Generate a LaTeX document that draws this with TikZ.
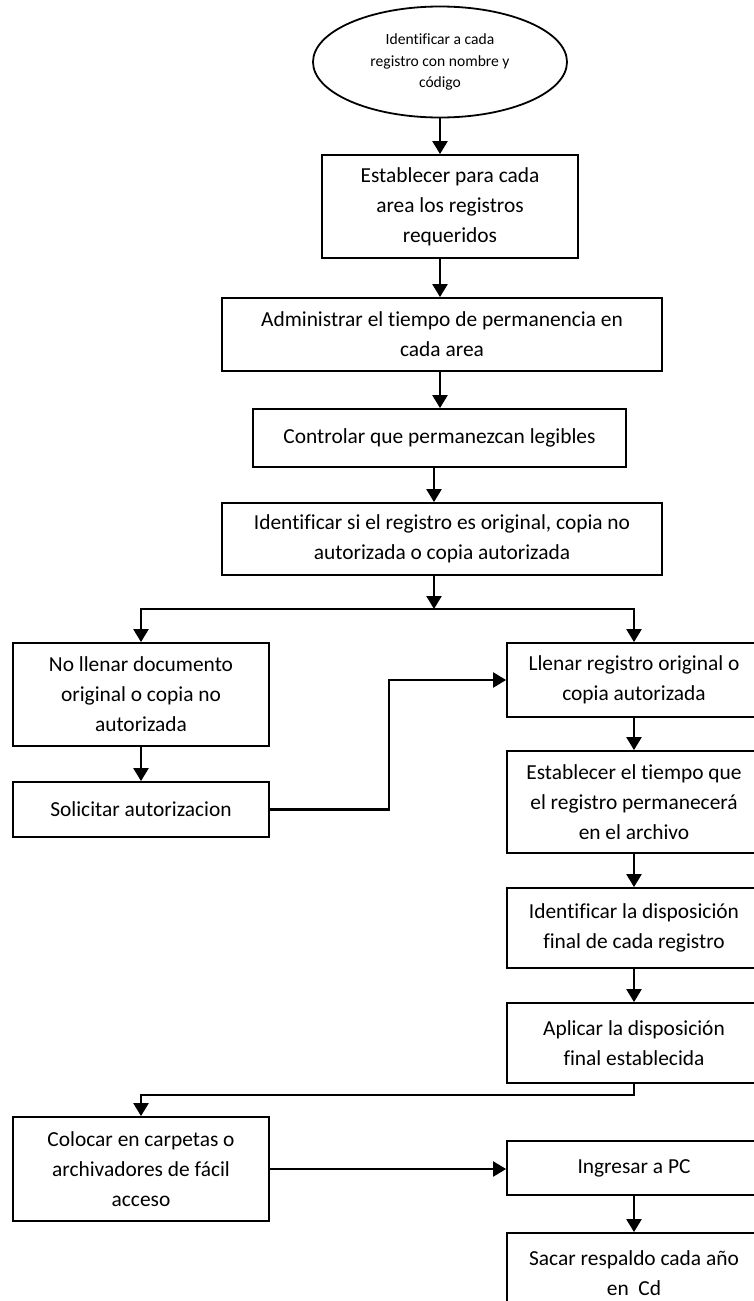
\documentclass[tikz,border=0pt]{standalone}
\usepackage{fontspec}
\setmainfont{Carlito}[Ligatures=NoCommon]
\usetikzlibrary{shapes.geometric,arrows.meta}
\begin{document}
\begin{tikzpicture}[x=1pt, y=-1pt, line width=1.8pt, >={Triangle[width=15pt,length=13pt]},
	caja/.style={draw, rectangle, align=center, inner sep=0pt, font=\fontsize{21.4}{30}\selectfont},
	elipse/.style={draw, ellipse, align=center, inner sep=0pt, font=\fontsize{15.6}{21.5}\selectfont},
	flecha/.style={->, line width=2.3pt}]
	\useasboundingbox (0,0) rectangle (754,1301);
	\clip (0,0) rectangle (754,1301);
	
	% columna central
	\node[elipse, minimum width=254pt, minimum height=111pt] (inicio) at (440,62) {Identificar a cada\\registro con nombre y\\código};
	\node[caja, minimum width=256pt, minimum height=103pt] (b1) at (450,206.5) {Establecer para cada\\area los registros\\requeridos};
	\node[caja, minimum width=440pt, minimum height=73pt] (b2) at (442,334.5) {Administrar el tiempo de permanencia en\\cada area};
	\node[caja, minimum width=373pt, minimum height=58pt] (b3) at (439.5,438) {Controlar que permanezcan legibles};
	\node[caja, minimum width=440pt, minimum height=72pt] (b4) at (442,539) {Identificar si el registro es original, copia no\\autorizada o copia autorizada};
	
	% rama izquierda
	\node[caja, minimum width=256pt, minimum height=103pt] (n1) at (141,694.5) {No llenar documento\\original o copia no\\autorizada};
	\node[caja, minimum width=256pt, minimum height=55pt] (n2) at (141,809.5) {Solicitar autorizacion};
	\node[caja, minimum width=256pt, minimum height=104pt] (c1) at (141,1169) {Colocar en carpetas o\\archivadores de fácil\\acceso};
	
	% rama derecha
	\node[caja, minimum width=254pt, minimum height=74pt] (r1) at (634,680) {Llenar registro original o\\copia autorizada};
	\node[caja, minimum width=254pt, minimum height=102pt] (r2) at (634,802) {Establecer el tiempo que\\el registro permanecerá\\en el archivo};
	\node[caja, minimum width=254pt, minimum height=80pt] (r3) at (634,928) {Identificar la disposición\\final de cada registro};
	\node[caja, minimum width=254pt, minimum height=80pt] (r4) at (634,1043) {Aplicar la disposición\\final establecida};
	\node[caja, minimum width=254pt, minimum height=54pt] (r5) at (634,1168) {Ingresar a PC};
	\node[caja, minimum width=254pt, minimum height=80pt] (r6) at (634,1273) {Sacar respaldo cada año\\en\ \ Cd};
	
	% puntos de union
	\coordinate (ramal) at (434,609);
	\coordinate (baja) at (634,1095);
	
	% flechas
	\draw[flecha] (inicio.south) -- (inicio.south |- b1.north);
	\draw[flecha] (b1.south -| inicio) -- (inicio |- b2.north);
	\draw[flecha] (b2.south -| inicio) -- (inicio |- b3.north);
	\draw[flecha] (b3.south -| ramal) -- (ramal |- b4.north);
	\draw[flecha] (b4.south -| ramal) -- (ramal);
	\draw[flecha] (ramal) -| (n1.north);
	\draw[flecha] (ramal) -| (r1.north);
	\draw[flecha] (n1) -- (n2);
	\draw[flecha] (n2.east) -- ++(119,0) |- (r1.west);
	\draw[flecha] (r1) -- (r2);
	\draw[flecha] (r2) -- (r3);
	\draw[flecha] (r3) -- (r4);
	\draw[flecha] (r4.south) -- (baja) -| (c1.north);
	\draw[flecha] (c1.east) -- (c1.east -| r5.west);
	\draw[flecha] (r5) -- (r6);
\end{tikzpicture}
\end{document}
